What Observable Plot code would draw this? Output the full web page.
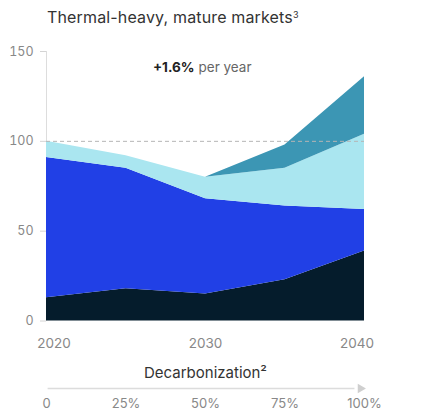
<!DOCTYPE html>
<html>
<head>
<meta charset="utf-8">
<script src="https://cdn.jsdelivr.net/npm/d3@7"></script>
<script src="https://cdn.jsdelivr.net/npm/@observablehq/plot@0.6"></script>
<style>
  body { margin: 0; background: #fff; font-family: Inter, "Liberation Sans", Arial, sans-serif; }
  #title { height: 34px; box-sizing: border-box; padding: 10px 0 0 47px; font-size: 16px; line-height: 15px; letter-spacing: 0.15px; color: #333; }
  #title sup { font-size: 9px; vertical-align: 5px; line-height: 0; }
  svg { display: block; }
</style>
</head>
<body>
<div id="title">Thermal-heavy, mature markets<sup>3</sup></div>
<div id="chart"></div>
<div id="decarb"></div>
<script>
// Years on the horizontal axis
const years = [2020, 2025, 2030, 2035, 2040];

// Stacked layers, bottom to top (index, 2020 = 100)
const layers = ["layer1", "layer2", "layer3", "layer4"];
const layerColors = ["#051c2c", "#2140e6", "#aae6f0", "#3c96b4"];
const layer1Values = [13, 18, 15, 23, 39];
const layer2Values = [78, 67, 53, 41, 23];
const layer3Values = [9, 7, 12, 21, 42];
// The top layer only appears from 2030 onward
const layer4Years = [2030, 2035, 2040];
const layer4Values = [0, 13, 32];

// Axis ticks
const yTicks = [0, 50, 100, 150];
const yearTicks = [2020, 2030, 2040];
const baseline = 100;
const growthValue = "+1.6%";
const growthUnit = "per year";
const annotationYear = 2030;

// Decarbonization scale under the chart
const decarbTitle = "Decarbonization²";
const decarbSteps = [0, 25, 50, 75, 100];
const decarbLabels = ["0", "25%", "50%", "75%", "100%"];

const rows = [
  ...years.map((year, i) => ({year, layer: "layer1", value: layer1Values[i]})),
  ...years.map((year, i) => ({year, layer: "layer2", value: layer2Values[i]})),
  ...years.map((year, i) => ({year, layer: "layer3", value: layer3Values[i]})),
  ...layer4Years.map((year, i) => ({year, layer: "layer4", value: layer4Values[i]}))
];

const W = 436;
const mL = 46, mR = 72;
const font = "Inter, 'Liberation Sans', Arial, sans-serif";

// Year labels: the end labels are nudged inward
const yearLabel = (year, dx) => Plot.text([year], {
  x: d => d, text: d => String(d), frameAnchor: "bottom", lineAnchor: "top",
  dy: 17, dx, fill: "#888", fontSize: 13.5
});

const chart = Plot.plot({
  width: W,
  height: 320,
  marginLeft: mL,
  marginRight: mR,
  marginTop: 17,
  marginBottom: 33.5,
  style: {fontFamily: font, fontSize: "13px", overflow: "visible", background: "transparent"},
  x: {domain: [2020, 2040], axis: null},
  y: {domain: [0, 150], axis: null},
  color: {domain: layers, range: layerColors},
  marks: [
    Plot.ruleX([2020], {y1: 0, y2: 150, stroke: "#ddd"}),
    Plot.axisY({ticks: yTicks, label: null, tickSize: 6, tickPadding: 7, stroke: "#d4d4d4", color: "#888", fontSize: 12.5}),
    Plot.areaY(rows, {x: "year", y: "value", fill: "layer", z: "layer"}),
    Plot.ruleY([baseline], {stroke: "#b5b5b5", strokeDasharray: "4,3"}),
    yearLabel(yearTicks[0], 7.5),
    yearLabel(yearTicks[1], 0),
    yearLabel(yearTicks[2], -7.5),
    Plot.text([growthValue], {
      x: () => annotationYear, text: d => d, frameAnchor: "top", lineAnchor: "bottom",
      dy: 20, dx: -11, textAnchor: "end", fontWeight: "bold", fill: "#222", fontSize: 13.5
    }),
    Plot.text([growthUnit], {
      x: () => annotationYear, text: d => d, frameAnchor: "top", lineAnchor: "bottom",
      dy: 20, dx: -7, textAnchor: "start", fill: "#666", fontSize: 13.5
    })
  ]
});
document.getElementById("chart").append(chart);

const decarb = Plot.plot({
  width: W,
  height: 57,
  marginLeft: mL,
  marginRight: mR,
  marginTop: 0,
  marginBottom: 4,
  style: {fontFamily: font, fontSize: "13px", overflow: "visible", background: "transparent"},
  x: {domain: [0, 100], axis: null},
  y: {domain: [0, 1], range: [34, 0], axis: null},
  marks: [
    Plot.text([decarbTitle], {
      x: () => 50, text: d => d, frameAnchor: "top", lineAnchor: "bottom",
      dy: 23, fill: "#333", fontSize: 15
    }),
    Plot.ruleY([0], {x1: 0.5, x2: 97, stroke: "#dcdcdc", strokeWidth: 1.5}),
    Plot.dot([100], {x: d => d, y: 0, symbol: "triangle", rotate: 90, r: 3.5, dx: -4, fill: "#cfcfcf"}),
    Plot.text(decarbSteps, {
      x: d => d, text: (d, i) => decarbLabels[i], frameAnchor: "bottom", lineAnchor: "bottom",
      textAnchor: d => d === 0 ? "start" : "middle", fill: "#888", fontSize: 13
    })
  ]
});
document.getElementById("decarb").append(decarb);
</script>
</body>
</html>
